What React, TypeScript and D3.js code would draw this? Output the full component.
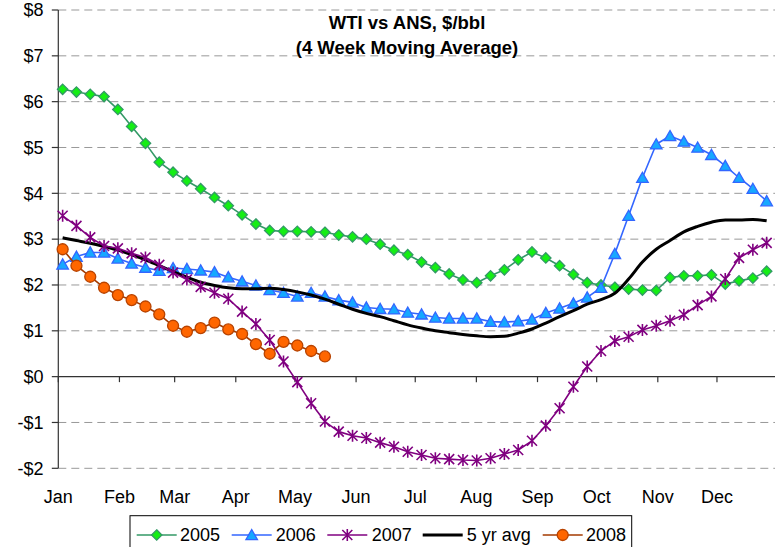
import React from "react";
import * as d3 from "d3";

const monthLabels = ["Jan", "Feb", "Mar", "Apr", "May", "Jun", "Jul", "Aug", "Sep", "Oct", "Nov", "Dec"];
const monthStartDays = [0, 31, 59, 90, 120, 151, 181, 212, 243, 273, 304, 334];
const yTickValues = [-2, -1, 0, 1, 2, 3, 4, 5, 6, 7, 8];

const s2005 = [6.27, 6.21, 6.16, 6.11, 5.83, 5.46, 5.09, 4.68, 4.46, 4.27, 4.10, 3.91, 3.73, 3.53, 3.33, 3.19, 3.17, 3.17, 3.16, 3.15, 3.09, 3.05, 3.00, 2.89, 2.76, 2.66, 2.50, 2.38, 2.24, 2.11, 2.05, 2.20, 2.33, 2.55, 2.72, 2.59, 2.42, 2.23, 2.05, 2.00, 1.95, 1.91, 1.89, 1.88, 2.16, 2.20, 2.20, 2.22, 2.02, 2.09, 2.15, 2.30];
const s2006 = [2.45, 2.62, 2.71, 2.71, 2.58, 2.47, 2.38, 2.31, 2.37, 2.35, 2.32, 2.28, 2.17, 2.08, 1.99, 1.89, 1.83, 1.75, 1.83, 1.75, 1.67, 1.62, 1.51, 1.48, 1.47, 1.40, 1.36, 1.29, 1.27, 1.27, 1.27, 1.20, 1.19, 1.21, 1.25, 1.39, 1.49, 1.60, 1.73, 1.94, 2.68, 3.51, 4.34, 5.07, 5.25, 5.13, 5.00, 4.84, 4.60, 4.34, 4.10, 3.83];
const s2007 = [3.51, 3.29, 3.04, 2.85, 2.80, 2.69, 2.60, 2.44, 2.27, 2.12, 1.96, 1.83, 1.70, 1.42, 1.15, 0.80, 0.33, -0.12, -0.58, -0.98, -1.20, -1.29, -1.34, -1.44, -1.53, -1.64, -1.71, -1.78, -1.80, -1.82, -1.83, -1.78, -1.69, -1.60, -1.40, -1.07, -0.69, -0.22, 0.22, 0.56, 0.78, 0.87, 1.02, 1.11, 1.22, 1.35, 1.56, 1.75, 2.13, 2.59, 2.77, 2.92];
const sAvg = [3.03, 2.97, 2.91, 2.84, 2.76, 2.66, 2.55, 2.42, 2.29, 2.17, 2.06, 1.99, 1.94, 1.92, 1.92, 1.93, 1.90, 1.85, 1.78, 1.69, 1.58, 1.47, 1.38, 1.31, 1.22, 1.13, 1.06, 1.00, 0.96, 0.92, 0.89, 0.87, 0.88, 0.95, 1.04, 1.17, 1.31, 1.44, 1.58, 1.68, 1.82, 2.13, 2.50, 2.78, 2.97, 3.16, 3.28, 3.37, 3.42, 3.42, 3.43, 3.40];
const s2008 = [2.78, 2.42, 2.18, 1.94, 1.78, 1.67, 1.53, 1.36, 1.11, 0.98, 1.06, 1.18, 1.03, 0.93, 0.71, 0.50, 0.76, 0.68, 0.56, 0.44];

const seriesNames = ["2005", "2006", "2007", "5 yr avg", "2008"];

const FONT = "'Liberation Sans', Arial, Helvetica, sans-serif";
const W = 775;
const H = 547;

const x = d3.scaleLinear().domain([0, 365]).range([58.3, 778.1]);
const y = d3.scaleLinear().domain([-2, 8]).range([468.3, 10]);
const weekDay = (i: number) => 2.2 + 7 * i;

type MarkerKind = "diamond" | "triangle" | "star" | "circle" | "none";

function Marker({ kind, cx, cy, fill, stroke }: { kind: MarkerKind; cx: number; cy: number; fill: string; stroke: string }) {
  if (kind === "diamond") {
    const r = 5.2;
    return <path d={`M${cx},${cy - r}L${cx + r},${cy}L${cx},${cy + r}L${cx - r},${cy}Z`} fill={fill} stroke={stroke} strokeWidth={1.3} />;
  }
  if (kind === "triangle") {
    const h = 5.5;
    return <path d={`M${cx},${cy - h}L${cx + h * 1.05},${cy + h * 0.85}L${cx - h * 1.05},${cy + h * 0.85}Z`} fill={fill} stroke={stroke} strokeWidth={1.3} />;
  }
  if (kind === "star") {
    const r = 5;
    return (
      <path
        d={`M${cx - r},${cy - r}L${cx + r},${cy + r}M${cx - r},${cy + r}L${cx + r},${cy - r}M${cx},${cy - r - 1}L${cx},${cy + r + 1}`}
        stroke={stroke}
        strokeWidth={1.6}
        fill="none"
      />
    );
  }
  if (kind === "circle") {
    return <circle cx={cx} cy={cy} r={5.5} fill={fill} stroke={stroke} strokeWidth={1.3} />;
  }
  return null;
}

type Series = { name: string; values: number[]; line: string; width: number; marker: MarkerKind; mfill: string; mstroke: string; smooth?: boolean };

const seriesList: Series[] = [
  { name: seriesNames[0], values: s2005, line: "#339966", width: 1.6, marker: "diamond", mfill: "#14EE14", mstroke: "#339966" },
  { name: seriesNames[1], values: s2006, line: "#3366FF", width: 1.6, marker: "triangle", mfill: "#16A8FF", mstroke: "#3366FF" },
  { name: seriesNames[2], values: s2007, line: "#800080", width: 1.6, marker: "star", mfill: "none", mstroke: "#800080" },
  { name: seriesNames[3], values: sAvg, line: "#000000", width: 3, marker: "none", mfill: "none", mstroke: "none", smooth: true },
  { name: seriesNames[4], values: s2008, line: "#A33A00", width: 1.6, marker: "circle", mfill: "#FF6600", mstroke: "#B84300" },
];

const drawOrder = [0, 1, 3, 2, 4];

export default function App() {
  const lineGen = (smooth?: boolean) =>
    d3
      .line<number>()
      .x((_, i) => x(weekDay(i)))
      .y((v) => y(v))
      .curve(smooth ? d3.curveMonotoneX : d3.curveLinear);

  const xEnd = 775;

  const legendItems = [
    { s: seriesList[0], lx: 136.7, tx: 180 },
    { s: seriesList[1], lx: 231.7, tx: 275.7 },
    { s: seriesList[2], lx: 327.3, tx: 371.7 },
    { s: seriesList[3], lx: 422.7, tx: 466.7 },
    { s: seriesList[4], lx: 542.7, tx: 586 },
  ];
  const ly = 535;

  return (
    <svg width={W} height={H} style={{ position: "absolute", left: 0, top: 0, background: "#fff" }} fontFamily={FONT}>
      <rect x={0} y={0} width={W} height={H} fill="#fff" />
      {/* gridlines */}
      {yTickValues
        .filter((v) => v !== 0)
        .map((v) => (
          <line key={"g" + v} x1={x(0)} x2={xEnd} y1={y(v)} y2={y(v)} stroke="#999" strokeWidth={1} strokeDasharray="8,5" />
        ))}
      {/* y axis */}
      <line x1={x(0)} x2={x(0)} y1={y(8)} y2={y(-2)} stroke="#333" strokeWidth={1.2} />
      {yTickValues.map((v) => (
        <g key={"yt" + v}>
          <line x1={x(0) - 6.5} x2={x(0)} y1={y(v)} y2={y(v)} stroke="#333" strokeWidth={1.2} />
          <text x={43.5} y={y(v)} dy="0.35em" textAnchor="end" fontSize={18} fill="#000">
            {(v < 0 ? "-$" : "$") + Math.abs(v)}
          </text>
        </g>
      ))}
      {/* x axis at zero */}
      <line x1={x(0)} x2={xEnd} y1={y(0)} y2={y(0)} stroke="#333" strokeWidth={1.2} />
      {monthStartDays.map((d, i) => (
        <g key={"xt" + i}>
          <line x1={x(d)} x2={x(d)} y1={y(0)} y2={y(0) + 5.5} stroke="#333" strokeWidth={1.2} />
          <text x={x(d)} y={503} textAnchor="middle" fontSize={18} fill="#000">
            {monthLabels[i]}
          </text>
        </g>
      ))}
      {/* series */}
      {drawOrder.map((k) => {
        const s = seriesList[k];
        return (
          <g key={s.name}>
            <path d={lineGen(s.smooth)(s.values) || ""} fill="none" stroke={s.line} strokeWidth={s.width} strokeLinejoin="round" />
            {s.values.map((v, i) => (
              <Marker key={i} kind={s.marker} cx={x(weekDay(i))} cy={y(v)} fill={s.mfill} stroke={s.mstroke} />
            ))}
          </g>
        );
      })}
      {/* title */}
      <text x={407} y={28.5} textAnchor="middle" fontSize={18.5} fontWeight="bold" fill="#000">
        WTI vs ANS, $/bbl
      </text>
      <text x={407} y={53.5} textAnchor="middle" fontSize={18.5} fontWeight="bold" fill="#000">
        (4 Week Moving Average)
      </text>
      {/* legend */}
      <rect x={130} y={515.7} width={501.7} height={45} fill="#fff" stroke="#000" strokeWidth={1} />
      {legendItems.map(({ s, lx, tx }) => (
        <g key={"lg" + s.name}>
          <line x1={lx} x2={lx + 40} y1={ly} y2={ly} stroke={s.line} strokeWidth={s.width} />
          <Marker kind={s.marker} cx={lx + 20} cy={ly} fill={s.mfill} stroke={s.mstroke} />
          <text x={tx} y={ly} dy="0.35em" fontSize={18} fill="#000">
            {s.name}
          </text>
        </g>
      ))}
    </svg>
  );
}
